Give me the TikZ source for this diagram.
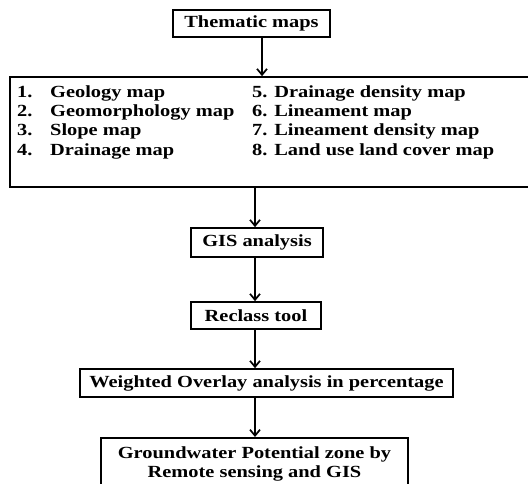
\documentclass[tikz,border=0pt]{standalone}
\usepackage{fontspec}
\setmainfont{Liberation Serif}[FakeStretch=1.2]
\usetikzlibrary{arrows.meta}
\usetikzlibrary{positioning}

\begin{document}
\begin{tikzpicture}[x=1pt,y=-1pt,
  font=\fontsize{17}{19.3}\selectfont\bfseries,
  caixa/.style={draw,line width=1.7pt,inner sep=0pt},
  seta/.style={-{Straight Barb[length=6pt,width=10pt]},line width=1.7pt}]

\useasboundingbox (0,0) rectangle (528,484);

% Caixas
\node[caixa,minimum width=157,minimum height=27] (tem) at (251.5,23.5) {Thematic maps};

\node[caixa,minimum width=530,minimum height=110] (mapas) at (275,132) {};
\node[anchor=north west,inner sep=0pt] (lista) at (17,83.5) {%
\renewcommand{\arraystretch}{1}%
\begin{tabular}{@{}p{235pt}@{}l@{}}
\makebox[33pt][l]{1.}Geology map & 5. Drainage density map\\
\makebox[33pt][l]{2.}Geomorphology map & 6. Lineament map\\
\makebox[33pt][l]{3.}Slope map & 7. Lineament density map\\
\makebox[33pt][l]{4.}Drainage map & 8. Land use land cover map
\end{tabular}};

\node[caixa,minimum width=132,minimum height=29] (gis) at (257,242.5) {GIS analysis};
\node[caixa,minimum width=130,minimum height=27] (recl) at (256,315.5) {Reclass tool};
\node[caixa,minimum width=373,minimum height=28] (wov) at (266.5,383) {Weighted Overlay analysis in percentage};
\node[caixa,minimum width=307,anchor=north,align=center,inner ysep=8.5pt] (gw) at (254.5,437)
  {Groundwater Potential zone by\\Remote sensing and GIS};

% Setas
\coordinate (eixo) at (255,0);
\draw[seta] ([xshift=10.5pt]tem.south) coordinate (t1) -- (t1 |- mapas.north);
\draw[seta] (mapas.south -| eixo) -- (gis.north -| eixo);
\draw[seta] (gis.south -| eixo) -- (recl.north -| eixo);
\draw[seta] (recl.south -| eixo) -- (wov.north -| eixo);
\draw[seta] (wov.south -| eixo) -- (gw.north -| eixo);

\end{tikzpicture}
\end{document}
